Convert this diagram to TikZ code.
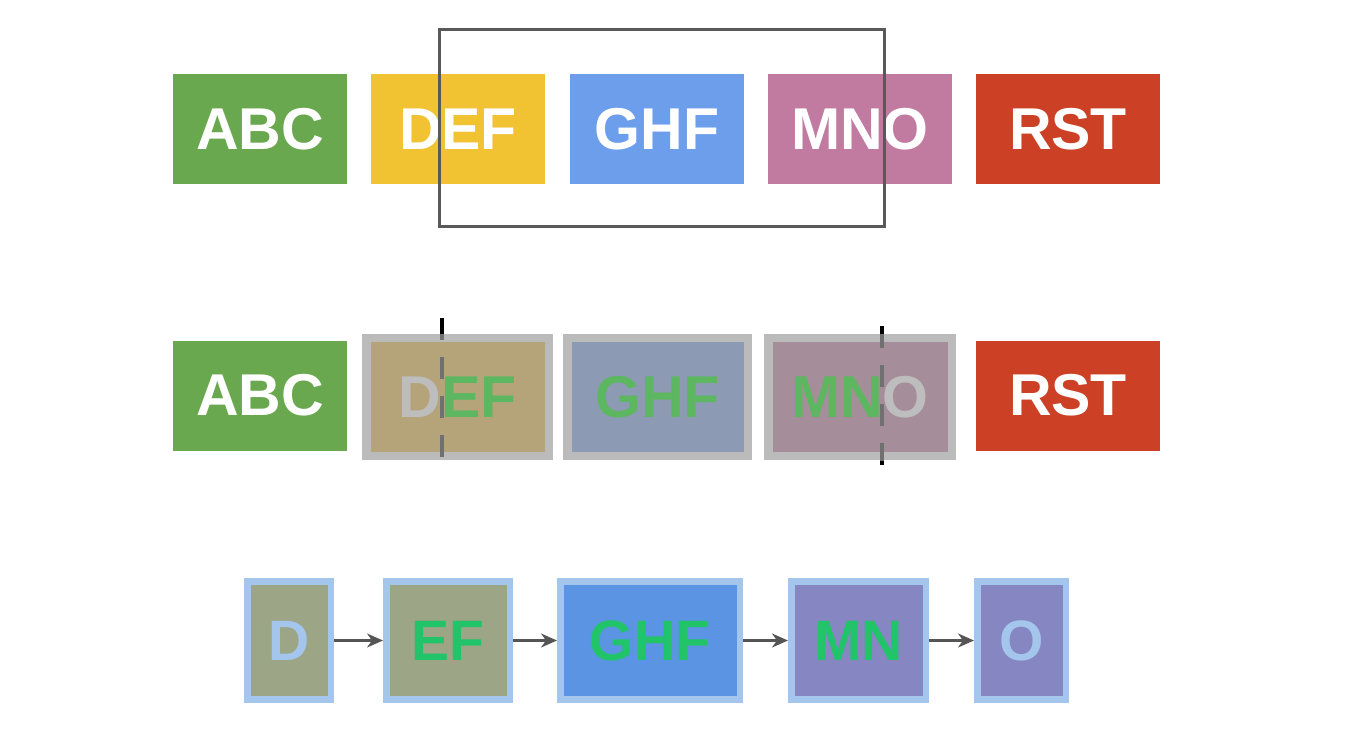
\documentclass[tikz,border=0pt]{standalone}
\usepackage{fontspec}
\setmainfont{Liberation Sans}
\usetikzlibrary{arrows.meta}
\definecolor{cgreen}{HTML}{6AA84F}
\definecolor{cyellow}{HTML}{F1C232}
\definecolor{cblue}{HTML}{6D9EEB}
\definecolor{cpink}{HTML}{C27BA0}
\definecolor{cred}{HTML}{CC4125}
\definecolor{frame}{HTML}{595959}
\definecolor{ovborder}{HTML}{BBBBBB}
\definecolor{ovtan}{HTML}{B5A47A}
\definecolor{ovblue}{HTML}{8C9AB4}
\definecolor{ovpink}{HTML}{A68D9A}
\definecolor{ovtext}{HTML}{BDBDBD}
\definecolor{ovgreen}{HTML}{5DB760}
\definecolor{lborder}{HTML}{A4C5EC}
\definecolor{olive}{HTML}{9CA586}
\definecolor{dblue}{HTML}{5B94E3}
\definecolor{violet}{HTML}{8586C2}
\definecolor{tgreen}{HTML}{22C46A}
\definecolor{arrcol}{HTML}{555555}
\definecolor{dashin}{HTML}{707070}
\tikzset{
  plainbox/.style={rectangle, inner sep=0pt, outer sep=0pt, minimum width=174pt, minimum height=110pt, text=white, font=\bfseries\fontsize{59}{59}\selectfont},
  ovbox/.style={rectangle, inner sep=0pt, draw=ovborder, line width=8.5pt, minimum height=118pt, font=\bfseries\fontsize{59}{59}\selectfont},
  seqbox/.style={rectangle, inner sep=0pt, draw=lborder, line width=6.5pt, minimum height=118pt, font=\bfseries\fontsize{57}{57}\selectfont},
  cut/.style={line width=4.5pt, dash pattern=on 22pt off 17pt},
  arr/.style={draw=arrcol, line width=2.2pt, -{Stealth[length=16pt, width=14pt, inset=5pt]}}
}
\begin{document}
\begin{tikzpicture}[x=1pt,y=-1pt]
\useasboundingbox (0,0) rectangle (1368,738);
% Row 1
\node[plainbox, fill=cgreen] (a1) at (260,129) {ABC};
\node[plainbox, fill=cyellow] (d1) at (458,129) {DEF};
\node[plainbox, fill=cblue] (g1) at (657,129) {GHF};
\node[plainbox, fill=cpink, minimum width=184pt] (m1) at (860,129) {MNO};
\node[plainbox, fill=cred, minimum width=184pt] (r1) at (1068,129) {RST};
\draw[frame, line width=3pt] (439,30) rectangle (884,227);
% Row 2
\node[plainbox, fill=cgreen] (a2) at (260,395.5) {ABC};
\node[ovbox, fill=ovtan, minimum width=182.5pt] (d2) at (457.5,397) {\textcolor{ovtext}{D}\textcolor{ovgreen}{EF}};
\node[ovbox, fill=ovblue, minimum width=180.5pt, text=ovgreen] (g2) at (657.5,397) {GHF};
\node[ovbox, fill=ovpink, minimum width=183.5pt] (m2) at (860,397) {\textcolor{ovgreen}{MN}\textcolor{ovtext}{O}};
\node[plainbox, fill=cred, minimum width=184pt] (r2) at (1068,395.5) {RST};
\coordinate (c1t) at (442,318);
\coordinate (c1b) at (442,462);
\coordinate (c2t) at (882,326);
\coordinate (c2b) at (882,469);
\draw[cut, black] (c1t) -- (c1b);
\draw[cut, black] (c2t) -- (c2b);
\begin{scope}
\clip (362,334) rectangle (553,460);
\draw[cut, dashin] (c1t) -- (c1b);
\end{scope}
\begin{scope}
\clip (764,334) rectangle (956,460);
\draw[cut, dashin] (c2t) -- (c2b);
\end{scope}
% Row 3
\node[seqbox, fill=olive, minimum width=83.5pt, text=lborder] (d3) at (289,640.5) {D};
\node[seqbox, fill=olive, minimum width=123.5pt, text=tgreen] (e3) at (448,640.5) {EF};
\node[seqbox, fill=dblue, minimum width=179.5pt, text=tgreen] (g3) at (650,640.5) {GHF};
\node[seqbox, fill=violet, minimum width=134.5pt, text=tgreen] (m3) at (858.5,640.5) {MN};
\node[seqbox, fill=violet, minimum width=88.5pt, text=lborder] (o3) at (1021.5,640.5) {O};
\draw[arr] (d3) -- (e3);
\draw[arr] (e3) -- (g3);
\draw[arr] (g3) -- (m3);
\draw[arr] (m3) -- (o3);
\end{tikzpicture}
\end{document}
